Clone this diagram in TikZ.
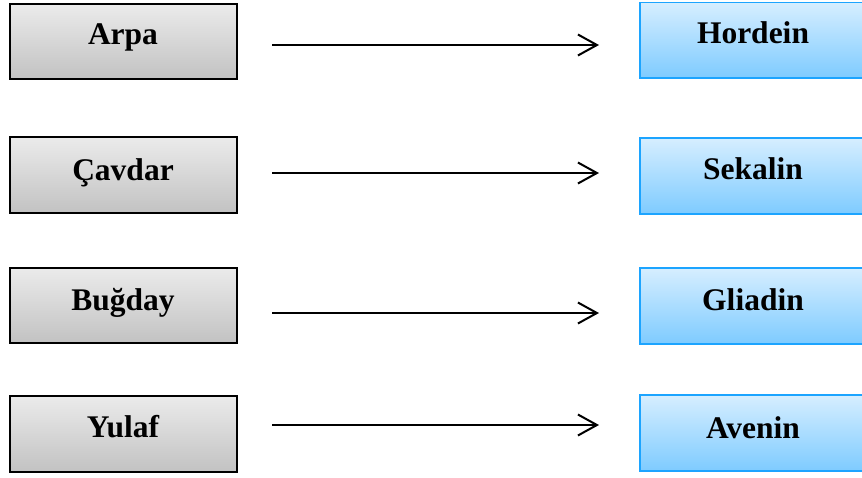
\documentclass[tikz,border=0pt]{standalone}
\usepackage{fontspec}
\setmainfont{Liberation Serif}
\usetikzlibrary{arrows.meta}
\definecolor{lgtop}{HTML}{EBEBEB}
\definecolor{lgbot}{HTML}{C2C2C2}
\definecolor{bltop}{HTML}{D6EEFF}
\definecolor{blbot}{HTML}{7ECBFF}
\definecolor{blborder}{HTML}{1CA4FF}
\tikzset{
  graybox/.style={draw=black, line width=1.6pt, top color=lgtop, bottom color=lgbot, minimum width=227pt, inner sep=0pt},
  bluebox/.style={draw=blborder, line width=1.6pt, top color=bltop, bottom color=blbot, minimum width=226pt, inner sep=0pt},
  lbl/.style={anchor=base, inner sep=0pt, font=\fontsize{31.5}{36}\selectfont\bfseries},
  conn/.style={line width=2pt, -{Straight Barb[length=19pt,width=21pt,line width=2pt]}}
}
\begin{document}
\begin{tikzpicture}[x=1pt,y=-1pt]
\useasboundingbox (0,0) rectangle (862,477);
\clip (0,0) rectangle (862,477);
% left boxes
\node[graybox, minimum height=75pt] (arpa) at (123.5,41.5) {};
\node[graybox, minimum height=76pt] (cavdar) at (123.5,175) {};
\node[graybox, minimum height=75pt] (bugday) at (123.5,305.5) {};
\node[graybox, minimum height=76pt] (yulaf) at (123.5,434) {};
\node[lbl] (tarpa) at (123,44) {Arpa};
\node[lbl] (tcavdar) at (123,180) {Çavdar};
\node[lbl] (tbugday) at (123,310) {Buğday};
\node[lbl] (tyulaf) at (123,437) {Yulaf};
% right boxes
\node[bluebox, minimum height=75.5pt] (hordein) at (753,40.25) {};
\node[bluebox, minimum height=76pt] (sekalin) at (753,176) {};
\node[bluebox, minimum height=76pt] (gliadin) at (753,306) {};
\node[bluebox, minimum height=76pt] (avenin) at (753,433) {};
\node[lbl] (thordein) at (753,43) {Hordein};
\node[lbl] (tsekalin) at (753,179) {Sekalin};
\node[lbl] (tgliadin) at (753,310) {Gliadin};
\node[lbl] (tavenin) at (753,438) {Avenin};
% arrows
\coordinate (s1) at (272,45);  \coordinate (e1) at (599,45);
\coordinate (s2) at (272,173); \coordinate (e2) at (599,173);
\coordinate (s3) at (272,313); \coordinate (e3) at (599,313);
\coordinate (s4) at (272,425); \coordinate (e4) at (599,425);
\draw[conn] (s1) -- (e1);
\draw[conn] (s2) -- (e2);
\draw[conn] (s3) -- (e3);
\draw[conn] (s4) -- (e4);
\end{tikzpicture}
\end{document}
